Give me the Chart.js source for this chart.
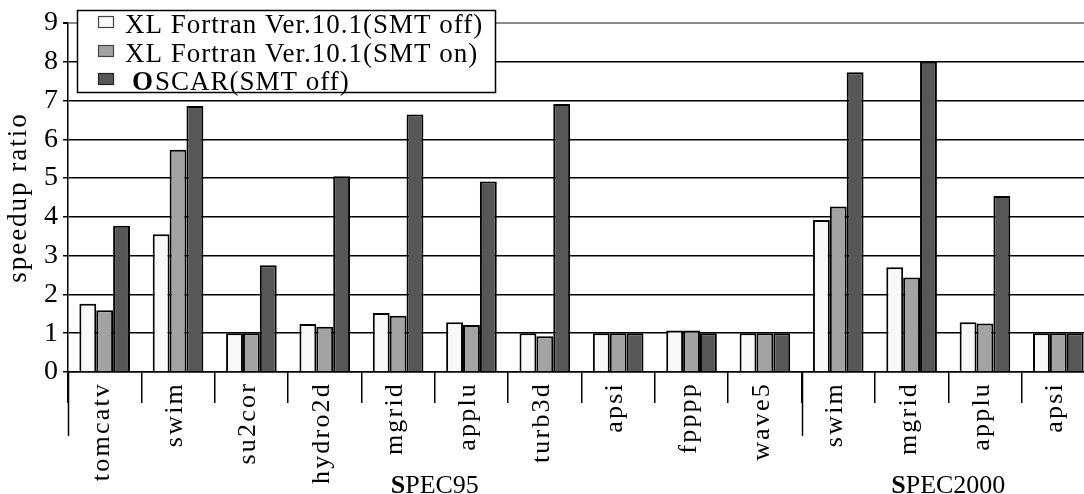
<!DOCTYPE html>
<html>
<head>
<meta charset="utf-8">
<script src="https://cdn.jsdelivr.net/npm/chart.js@4"></script>
<style>
  html, body { margin: 0; padding: 0; background: #fff; overflow: hidden; }
  canvas { display: block; }
</style>
</head>
<body>
<canvas id="speedup" width="1100" height="494"></canvas>
<script>
// Benchmarks on the x axis (SPEC95 first, then SPEC2000)
const benchmarks = ['tomcatv', 'swim', 'su2cor', 'hydro2d', 'mgrid', 'applu', 'turb3d', 'apsi', 'fpppp', 'wave5',
                    'swim', 'mgrid', 'applu', 'apsi'];

// Speedup ratio per benchmark
const xlSmtOff = [1.76, 3.55, 1.0, 1.24, 1.52, 1.28, 1.0, 1.0, 1.07, 1.0, 3.92, 2.70, 1.28, 1.0];
const xlSmtOn = [1.59, 5.73, 1.0, 1.17, 1.45, 1.21, 0.92, 1.0, 1.07, 1.0, 4.27, 2.44, 1.25, 1.0];
const oscarSmtOff = [3.77, 6.86, 2.75, 5.05, 6.64, 4.91, 6.91, 1.0, 1.0, 1.0, 7.73, 8.0, 4.54, 1.0];

const seriesNames = ['XL Fortran Ver.10.1(SMT off)', 'XL Fortran Ver.10.1(SMT on)', 'OSCAR(SMT off)'];
const yTicks = [0, 1, 2, 3, 4, 5, 6, 7, 8, 9];

// Suite labels under the benchmark names
const suiteNames = ['SPEC95', 'SPEC2000'];
const suiteFirst = [0, 10];
const suiteLast = [9, 13];

const serif = "'Liberation Serif', 'Times New Roman', serif";
const fills = ['#f8f8f8', '#a3a3a3', '#575757'];

// Draws the rotated names, suite labels, axis title and the boxed legend
const paperText = {
    id: 'paperText',
    afterDraw(chart) {
        const ctx = chart.ctx;
        const x = chart.scales.x;
        const area = chart.chartArea;

        // rotated benchmark names
        ctx.save();
        ctx.fillStyle = '#000';
        ctx.font = '26px ' + serif;
        benchmarks.forEach((name, i) => {
            const px = x.getPixelForValue(i);
            ctx.save();
            ctx.translate(px + 4, area.bottom + 10);
            ctx.rotate(-Math.PI / 2);
            ctx.letterSpacing = '2.2px';
            ctx.textAlign = 'right';
            ctx.textBaseline = 'alphabetic';
            ctx.fillText(name, 0, 0);
            ctx.restore();
        });

        // long separator at the start of each suite
        ctx.strokeStyle = '#000';
        ctx.lineWidth = 1.5;
        suiteFirst.forEach(s => {
            const px = s === 0 ? x.left : (x.getPixelForValue(s - 1) + x.getPixelForValue(s)) / 2;
            ctx.beginPath();
            ctx.moveTo(Math.round(px) + 0.5, area.bottom);
            ctx.lineTo(Math.round(px) + 0.5, area.bottom + 64);
            ctx.stroke();
        });

        // suite labels, first letter in bold
        suiteNames.forEach((name, k) => {
            const cx = (x.getPixelForValue(suiteFirst[k]) + x.getPixelForValue(suiteLast[k])) / 2;
            ctx.font = 'bold 26px ' + serif;
            const w1 = ctx.measureText(name[0]).width;
            ctx.font = '26px ' + serif;
            const w2 = ctx.measureText(name.slice(1)).width;
            const left = cx - (w1 + w2) / 2;
            ctx.textAlign = 'left';
            ctx.textBaseline = 'alphabetic';
            ctx.font = 'bold 26px ' + serif;
            ctx.fillText(name[0], left, 493);
            ctx.font = '26px ' + serif;
            ctx.fillText(name.slice(1), left + w1, 493);
        });

        // y axis title
        ctx.save();
        ctx.translate(26, (area.top + area.bottom) / 2);
        ctx.rotate(-Math.PI / 2);
        ctx.font = '27px ' + serif;
        ctx.letterSpacing = '2px';
        ctx.textAlign = 'center';
        ctx.textBaseline = 'alphabetic';
        ctx.fillText('speedup ratio', 0, 0);
        ctx.restore();

        // legend box
        ctx.fillStyle = '#fff';
        ctx.fillRect(77, 10, 418, 82);
        ctx.lineWidth = 1.5;
        ctx.strokeStyle = '#000';
        ctx.strokeRect(77.5, 10.5, 418, 82);
        const rowBase = [33, 62, 90];
        seriesNames.forEach((name, i) => {
            ctx.fillStyle = fills[i];
            ctx.fillRect(98, rowBase[i] - 17, 15, 11);
            ctx.strokeStyle = i === 2 ? '#222' : '#444';
            ctx.lineWidth = 1.2;
            ctx.strokeRect(98.5, rowBase[i] - 16.5, 15, 11);
            ctx.fillStyle = '#000';
            ctx.textAlign = 'left';
            ctx.textBaseline = 'alphabetic';
            ctx.letterSpacing = '1px';
            if (i === 2) {
                ctx.font = 'bold 27px ' + serif;
                ctx.fillText(name[0], 132, rowBase[i]);
                const w = ctx.measureText(name[0]).width + 1;
                ctx.font = '27px ' + serif;
                ctx.fillText(name.slice(1), 132 + w, rowBase[i]);
            } else {
                ctx.font = '27px ' + serif;
                ctx.fillText(name, 125, rowBase[i]);
            }
        });
        ctx.restore();
    }
};

new Chart(document.getElementById('speedup'), {
    type: 'bar',
    data: {
        labels: benchmarks,
        datasets: [
            { label: seriesNames[0], data: xlSmtOff, backgroundColor: fills[0] },
            { label: seriesNames[1], data: xlSmtOn, backgroundColor: fills[1] },
            { label: seriesNames[2], data: oscarSmtOff, backgroundColor: fills[2] }
        ].map(d => Object.assign(d, {
            borderColor: '#000',
            borderWidth: 2,
            categoryPercentage: 0.69,
            barPercentage: 1.0
        }))
    },
    options: {
        responsive: false,
        animation: false,
        devicePixelRatio: 1,
        layout: { padding: { left: 0, top: 23, right: 5, bottom: 0 } },
        plugins: {
            legend: { display: false },
            tooltip: { enabled: false }
        },
        scales: {
            x: {
                ticks: { display: false },
                grid: {
                    offset: true,
                    drawOnChartArea: false,
                    drawTicks: true,
                    tickLength: 31,
                    color: '#000',
                    lineWidth: 1.5
                },
                border: { color: '#000', width: 1.5 },
                afterFit: scale => { scale.height = 122; }
            },
            y: {
                min: 0,
                max: 9,
                afterBuildTicks: scale => { scale.ticks = yTicks.map(v => ({ value: v })); },
                ticks: {
                    color: '#000',
                    padding: 5,
                    font: { family: serif, size: 28 }
                },
                grid: {
                    color: c => (c.tick && c.tick.value === 9 ? '#8a8a8a' : '#000'),
                    tickColor: '#000',
                    lineWidth: c => (c.tick && c.tick.value === 9 ? 2 : 1.5),
                    tickLength: 5
                },
                border: { color: '#000', width: 1.5 },
                afterFit: scale => { scale.width = 68; }
            }
        }
    },
    plugins: [paperText]
});
</script>
</body>
</html>
